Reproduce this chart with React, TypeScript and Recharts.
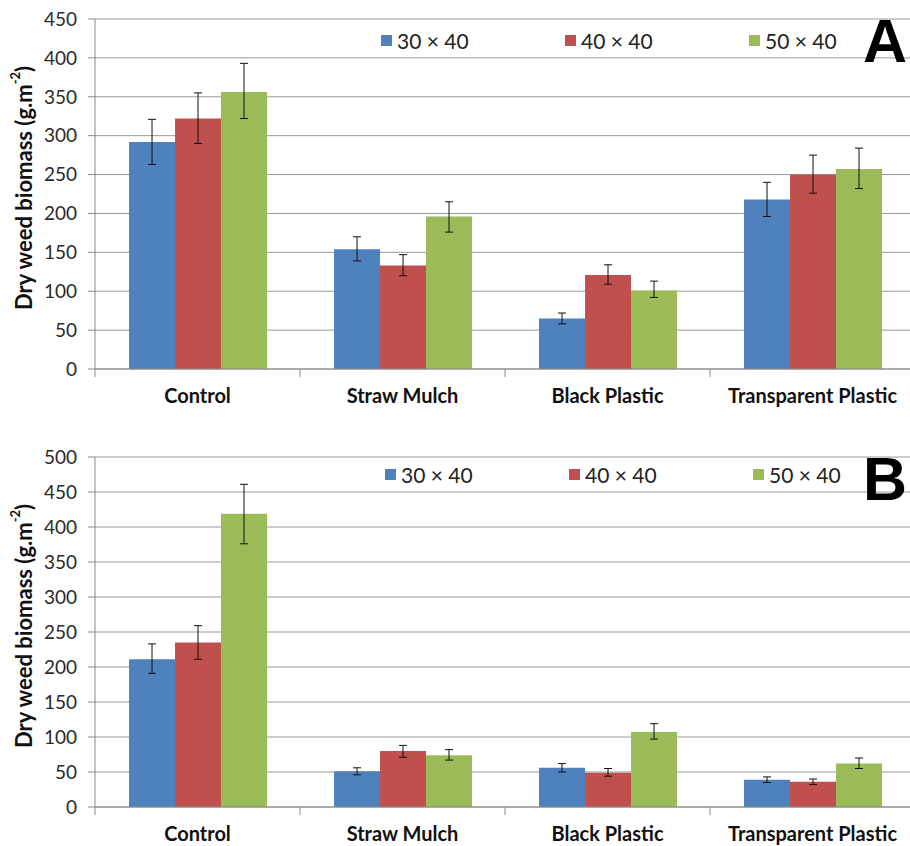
import React from "react";
import { BarChart, Bar, XAxis, YAxis, CartesianGrid, ErrorBar, Legend } from "recharts";

const categories = ["Control", "Straw Mulch", "Black Plastic", "Transparent Plastic"];
const seriesNames = ["30 × 40", "40 × 40", "50 × 40"];
const seriesColors = ["#4F81BD", "#C0504D", "#9BBB59"];

// panel A (bar value, error bar low end, error bar high end)
const a30 = [292, 154, 65, 218];
const a30Lo = [263, 139, 58, 196];
const a30Hi = [321, 170, 72, 240];
const a40 = [322, 133, 121, 250];
const a40Lo = [290, 120, 109, 226];
const a40Hi = [355, 147, 134, 275];
const a50 = [356, 196, 101, 257];
const a50Lo = [322, 176, 92, 232];
const a50Hi = [393, 215, 113, 284];
const aTicks = [0, 50, 100, 150, 200, 250, 300, 350, 400, 450];

// panel B
const b30 = [211, 51, 56, 39];
const b30Lo = [191, 46, 50, 35];
const b30Hi = [233, 56, 62, 43];
const b40 = [235, 80, 49, 36];
const b40Lo = [211, 71, 44, 32];
const b40Hi = [259, 88, 55, 40];
const b50 = [419, 74, 107, 62];
const b50Lo = [376, 67, 97, 55];
const b50Hi = [461, 82, 119, 70];
const bTicks = [0, 50, 100, 150, 200, 250, 300, 350, 400, 450, 500];

const FONT = "Lato, 'Open Sans', sans-serif";
const AXIS = "#8a8a8a";

function buildRows(vals: number[][], los: number[][], his: number[][]) {
  return categories.map((name, i) => {
    const row: any = { name };
    vals.forEach((v, s) => {
      row[`s${s}`] = v[i];
      row[`e${s}`] = [v[i] - los[s][i], his[s][i] - v[i]];
    });
    return row;
  });
}

const rowsA = buildRows([a30, a40, a50], [a30Lo, a40Lo, a50Lo], [a30Hi, a40Hi, a50Hi]);
const rowsB = buildRows([b30, b40, b50], [b30Lo, b40Lo, b50Lo], [b30Hi, b40Hi, b50Hi]);

function CatTick(props: any) {
  const { x, y, payload, index, visibleTicksCount } = props;
  const half = payload.offset || 102.5;
  return (
    <g>
      <line x1={x - half} x2={x - half} y1={y} y2={y + 8} stroke={AXIS} />
      {index === visibleTicksCount - 1 && <line x1={x + half} x2={x + half} y1={y} y2={y + 8} stroke={AXIS} />}
      <text x={x} y={y + 34} textAnchor="middle" fontFamily={FONT} fontSize={20} fontWeight={700} fill="#111">
        {payload.value}
      </text>
    </g>
  );
}

function YTitle(props: any) {
  const vb = props.viewBox || { x: 0, y: 0, width: 95, height: 350 };
  const cx = 23;
  const cy = vb.y + vb.height / 2 - 6;
  return (
    <text
      x={cx}
      y={cy}
      transform={`rotate(-90 ${cx} ${cy})`}
      textAnchor="middle"
      dominantBaseline="central"
      fontFamily={FONT}
      fontSize={22}
      fontWeight={700}
      fill="#111"
    >
      Dry weed biomass (g.m
      <tspan dy={-8} fontSize={13}>-2</tspan>
      <tspan dy={8}>)</tspan>
    </text>
  );
}

function LegendRow() {
  return (
    <div style={{ display: "flex", fontFamily: FONT, fontSize: 21, color: "#222" }}>
      {seriesNames.map((n, i) => (
        <div key={n} style={{ width: 184, display: "flex", alignItems: "center" }}>
          <span style={{ width: 11, height: 11, background: seriesColors[i], marginRight: 5, display: "inline-block" }} />
          <span>{n}</span>
        </div>
      ))}
    </div>
  );
}

function Panel({ rows, ticks, top, height, xHeight, letter, legendLeft, legendTop }: any) {
  return (
    <div style={{ position: "absolute", left: 0, top, width: 910, height, overflow: "hidden" }}>
      <BarChart
        width={920}
        height={height}
        data={rows}
        margin={{ top: 19, right: 5, bottom: 0, left: 0 }}
        barCategoryGap="16.6%"
        barGap={0}
      >
        <CartesianGrid vertical={false} stroke="#9a9a9a" />
        <XAxis
          dataKey="name"
          height={xHeight}
          stroke={AXIS}
          tickLine={false}
          tickSize={0}
          tickMargin={0}
          tick={<CatTick />}
          interval={0}
        />
        <YAxis
          width={95}
          domain={[0, ticks[ticks.length - 1]]}
          ticks={ticks}
          interval={0}
          stroke={AXIS}
          tickSize={7}
          tickMargin={11}
          tick={{ fontFamily: FONT, fontSize: 19, fill: "#2a2a2a" }}
          label={{ content: YTitle }}
        />
        <Legend
          layout="horizontal"
          verticalAlign="middle"
          align="center"
          content={() => <LegendRow />}
          wrapperStyle={{ top: legendTop, left: legendLeft, width: 560 }}
        />
        {seriesNames.map((n, i) => (
          <Bar key={n} dataKey={`s${i}`} name={n} fill={seriesColors[i]} isAnimationActive={false}>
            <ErrorBar dataKey={`e${i}`} width={4} stroke="#111" strokeWidth={1} direction="y" />
          </Bar>
        ))}
      </BarChart>
      <div
        style={{
          position: "absolute",
          left: 863,
          top: 5,
          fontFamily: "'Liberation Sans', Arial, sans-serif",
          fontWeight: 700,
          fontSize: 61,
          lineHeight: "72px",
          color: "#000",
        }}
      >
        {letter}
      </div>
    </div>
  );
}

export default function App() {
  return (
    <div style={{ position: "absolute", left: 0, top: 0, width: 910, height: 846, background: "#fff", overflow: "hidden" }}>
      <Panel rows={rowsA} ticks={aTicks} top={0} height={420} xHeight={51} letter="A" legendLeft={381} legendTop={28} />
      <Panel rows={rowsB} ticks={bTicks} top={438} height={408} xHeight={39} letter="B" legendLeft={385} legendTop={24} />
    </div>
  );
}
